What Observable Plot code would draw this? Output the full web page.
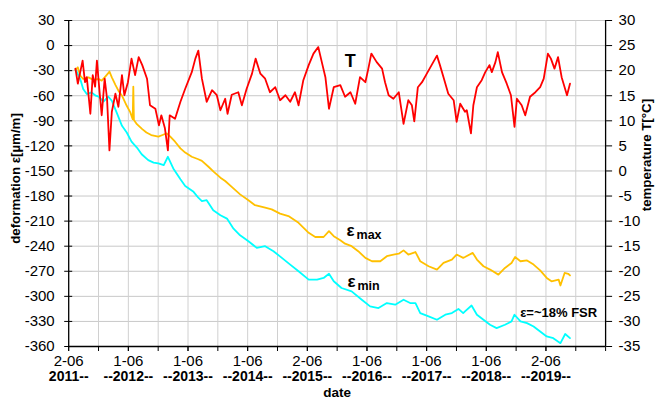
<!DOCTYPE html>
<html><head><meta charset="utf-8">
<script src="https://cdn.jsdelivr.net/npm/d3@7"></script>
<script src="https://cdn.jsdelivr.net/npm/@observablehq/plot@0.6"></script>
<style>
html,body{margin:0;padding:0;background:#fff}
#chart{width:655px;height:412px}
</style>
</head><body><div id="chart"></div>
<script>
// ---- data (decimal years, values) ----
const tMax = [2011.53,2011.57,2011.61,2011.66,2011.75,2011.83,2011.92,2011.97,2012.02,2012.08,2012.10,2012.14,2012.20,2012.25,2012.31,2012.39,2012.45,2012.49,2012.50,2012.51,2012.56,2012.65,2012.72,2012.80,2012.92,2012.99,2013.06,2013.12,2013.20,2013.29,2013.37,2013.48,2013.59,2013.65,2013.76,2013.85,2013.96,2014.04,2014.15,2014.29,2014.43,2014.54,2014.71,2014.82,2014.96,2015.10,2015.27,2015.44,2015.55,2015.69,2015.78,2015.86,2015.97,2016.05,2016.16,2016.27,2016.39,2016.50,2016.64,2016.75,2016.86,2016.95,2017.03,2017.11,2017.23,2017.31,2017.45,2017.59,2017.70,2017.84,2017.92,2018.03,2018.06,2018.19,2018.26,2018.37,2018.48,2018.62,2018.73,2018.84,2018.90,2018.99,2019.10,2019.21,2019.32,2019.43,2019.51,2019.63,2019.66,2019.73,2019.79,2019.82];
const vMax = [-29,-26,-36,-40,-38,-41,-40,-42,-38,-33,-31,-38,-47,-54,-60,-72,-80,-88,-49,-89,-94,-100,-104,-107,-109,-107,-105,-109,-115,-123,-128,-133,-136,-138,-145,-151,-158,-162,-169,-178,-185,-191,-194,-196,-201,-204,-212,-224,-229,-229,-222,-228,-233,-237,-240,-246,-254,-258,-258,-252,-250,-249,-245,-250,-247,-258,-264,-268,-260,-256,-250,-254,-253,-248,-256,-264,-268,-274,-266,-260,-253,-258,-257,-262,-269,-278,-282,-280,-287,-272,-273,-275];

const tMin = [2011.53,2011.61,2011.66,2011.72,2011.80,2011.87,2011.92,2012.00,2012.08,2012.14,2012.22,2012.31,2012.39,2012.47,2012.56,2012.64,2012.75,2012.84,2012.92,2013.01,2013.08,2013.17,2013.29,2013.37,2013.51,2013.59,2013.65,2013.73,2013.84,2013.96,2014.07,2014.18,2014.29,2014.43,2014.57,2014.71,2014.85,2014.99,2015.13,2015.27,2015.44,2015.58,2015.69,2015.78,2015.86,2015.99,2016.16,2016.33,2016.47,2016.61,2016.75,2016.89,2017.03,2017.14,2017.23,2017.31,2017.45,2017.59,2017.73,2017.84,2017.95,2018.03,2018.06,2018.17,2018.26,2018.37,2018.48,2018.59,2018.73,2018.84,2018.89,2018.99,2019.10,2019.21,2019.32,2019.43,2019.54,2019.66,2019.74,2019.82];
const vMin = [-28,-40,-52,-58,-56,-60,-61,-67,-61,-66,-80,-96,-104,-115,-122,-130,-137,-140,-141,-143,-133,-147,-160,-168,-175,-182,-186,-185,-197,-203,-207,-219,-227,-234,-242,-240,-246,-254,-262,-270,-280,-280,-278,-273,-282,-290,-294,-304,-312,-314,-308,-310,-304,-308,-308,-320,-324,-328,-322,-320,-315,-320,-318,-311,-322,-328,-334,-338,-334,-330,-322,-330,-332,-336,-342,-348,-350,-356,-345,-350];

const tTemp = [2011.53,2011.57,2011.61,2011.65,2011.69,2011.72,2011.78,2011.82,2011.86,2011.89,2011.93,2011.97,2012.02,2012.06,2012.10,2012.14,2012.20,2012.25,2012.31,2012.35,2012.41,2012.47,2012.53,2012.59,2012.65,2012.73,2012.78,2012.87,2012.93,2012.97,2013.03,2013.08,2013.11,2013.20,2013.29,2013.37,2013.48,2013.54,2013.59,2013.65,2013.73,2013.82,2013.90,2013.96,2014.04,2014.08,2014.15,2014.26,2014.32,2014.40,2014.49,2014.55,2014.63,2014.71,2014.79,2014.88,2014.96,2015.05,2015.13,2015.21,2015.27,2015.35,2015.44,2015.52,2015.60,2015.66,2015.72,2015.78,2015.86,2015.97,2016.05,2016.14,2016.22,2016.30,2016.39,2016.44,2016.49,2016.58,2016.67,2016.72,2016.78,2016.86,2016.95,2017.03,2017.11,2017.17,2017.21,2017.27,2017.34,2017.42,2017.50,2017.59,2017.64,2017.70,2017.78,2017.87,2017.92,2017.98,2018.03,2018.06,2018.09,2018.16,2018.20,2018.26,2018.34,2018.40,2018.47,2018.51,2018.57,2018.61,2018.68,2018.76,2018.83,2018.89,2018.93,2019.01,2019.07,2019.15,2019.24,2019.32,2019.38,2019.45,2019.50,2019.56,2019.62,2019.68,2019.73,2019.77,2019.82];
const vTemp = [20.4,17.4,19.7,22.0,17.7,18.7,11.4,19.1,16.8,22.0,16.4,11.1,18.4,14.4,4.1,11.8,15.4,12.8,19.1,15.1,17.7,22.4,19.1,22.7,21.1,18.4,13.1,12.4,9.1,11.1,8.5,4.1,11.1,10.4,13.8,16.4,19.7,22.4,24.0,18.4,13.8,16.1,15.1,12.1,14.4,11.4,15.2,15.7,13.1,16.4,19.4,22.4,19.4,18.4,15.7,16.7,14.1,15.1,13.8,15.7,13.1,18.1,21.1,23.4,24.7,21.7,18.7,12.4,16.7,17.1,14.8,15.7,13.4,18.7,17.7,20.4,23.4,21.7,20.4,17.7,15.1,14.4,15.7,9.4,14.1,13.1,9.9,16.7,17.7,19.4,21.1,23.0,21.1,18.7,15.4,14.1,9.8,13.4,12.4,11.8,12.1,7.5,13.1,16.7,18.1,19.7,21.1,19.7,21.7,23.7,19.7,17.4,15.1,8.8,14.4,13.1,11.1,14.8,15.7,16.7,18.4,23.4,22.4,20.4,22.7,18.7,16.7,15.1,17.4];

const leftTicks = [-360,-330,-300,-270,-240,-210,-180,-150,-120,-90,-60,-30,0,30];
const tempTicks = [-35,-30,-25,-20,-15,-10,-5,0,5,10,15,20,25,30];
const xDayLabels = ["2-06","1-06","1-06","1-06","2-06","1-06","1-06","1-06","2-06"];
const xYearLabels = ["2011--","--2012--","--2013--","--2014--","--2015--","--2016--","--2017--","--2018--","--2019--"];

// ---- build ----
const maxRows = tMax.map((t,i)=>({t, v:vMax[i]}));
const minRows = tMin.map((t,i)=>({t, v:vMin[i]}));
const tempRows = tTemp.map((t,i)=>({t, v:vTemp[i]}));

const x0 = 2011.417, x1 = 2020.417;
const toLeft = T => 30 + (T - 30) * 6;          // temperature → deformation scale
const fromLeft = v => Math.round((v - 30) / 6 + 30);
const majorTicks = xDayLabels.map((_, i) => x0 + i);
const minorTicks = d3.range(0, 10).map(i => x0 + i).concat(d3.range(0, 9).map(i => x0 + i + 0.5));
const gridX = d3.range(1, 18).map(i => x0 + i * 0.5);

const W = 655, H = 412, ML = 68.2, MR = 49.9, MT = 20, MB = 66;
const FW = W - ML - MR;
const FONT = "'Liberation Sans', Arial, Helvetica, sans-serif";

const chart = Plot.plot({
  width: W, height: H,
  marginLeft: ML, marginRight: MR, marginTop: MT, marginBottom: MB,
  style: {fontFamily: FONT, fontSize: "15px", color: "#000", background: "#fff", overflow: "visible"},
  x: {domain: [x0, x1]},
  y: {domain: [-360, 30]},
  marks: [
    Plot.ruleY(leftTicks.filter(v => v > -360), {stroke: "#c8c8c8", strokeWidth: 1}),
    Plot.ruleX(gridX, {stroke: "#d0d0d0", strokeWidth: 1}),
    Plot.line(minRows, {x: "t", y: "v", stroke: "#00ffff", strokeWidth: 1.8}),
    Plot.line(maxRows, {x: "t", y: "v", stroke: "#ffc000", strokeWidth: 1.8}),
    Plot.line(tempRows, {x: "t", y: d => toLeft(d.v), stroke: "#ff0000", strokeWidth: 1.8}),
    // frame axes lines
    Plot.ruleX([x0], {stroke: "#000", strokeWidth: 1.3}),
    Plot.ruleX([x1], {stroke: "#000", strokeWidth: 1.3}),
    Plot.ruleY([-360], {stroke: "#000", strokeWidth: 1.3}),
    // left axis
    Plot.axisY(leftTicks, {anchor: "left", tickSize: 4, tickPadding: 10, fontSize: 15, tickFormat: d => String(d), label: null}),
    Plot.tickY(leftTicks, {y: d => d, stroke: "#000", insetRight: FW - 4}),
    // right axis
    Plot.axisY(tempTicks.map(toLeft), {anchor: "right", tickSize: 6, tickPadding: 7, fontSize: 15, tickFormat: v => String(fromLeft(v)), label: null}),
    // x axis
    Plot.axisX(minorTicks, {anchor: "bottom", tickSize: 5, fill: "none", label: null}),
    Plot.axisX(majorTicks, {anchor: "bottom", tickSize: 5, tickPadding: 4, fontSize: 15, tickFormat: d => xDayLabels[Math.round(d - x0)], label: null}),
    Plot.axisX(majorTicks, {anchor: "bottom", tickSize: 0, tickPadding: 25, fontSize: 14, fontWeight: "bold", tickFormat: d => xYearLabels[Math.round(d - x0)], label: null}),
    // titles (placed in scale units just outside the frame)
    Plot.text([{t: x0 - 53 / 59.66, v: -159, s: "deformation ε[µm/m]"}], {x: "t", y: "v", text: "s", rotate: -90, fontSize: 13.3, fontWeight: "bold", fill: "#000"}),
    Plot.text([{t: x1 + 41 / 59.66, v: -131, s: "temperature T[°C]"}], {x: "t", y: "v", text: "s", rotate: -90, fontSize: 13.3, fontWeight: "bold", fill: "#000"}),
    Plot.text(["date"], {frameAnchor: "bottom", dy: 50, fontSize: 13.5, fontWeight: "bold", fill: "#000"}),
    // annotations
    Plot.text([{t: 2016.045, v: -25.6, s: "T"}], {x: "t", y: "v", text: "s", textAnchor: "start", lineAnchor: "bottom", fontSize: 18, fontWeight: "bold", fill: "#000"}),
    Plot.text([{t: 2016.074, v: -228.4, s: "ε"}], {x: "t", y: "v", text: "s", textAnchor: "start", lineAnchor: "bottom", fontSize: 17, fontWeight: "bold", fill: "#000"}),
    Plot.text([{t: 2016.074, v: -228.4, s: "max"}], {x: "t", y: "v", text: "s", dx: 10, dy: 3, textAnchor: "start", lineAnchor: "bottom", fontSize: 12.5, fontWeight: "bold", fill: "#000"}),
    Plot.text([{t: 2016.09, v: -288.8, s: "ε"}], {x: "t", y: "v", text: "s", textAnchor: "start", lineAnchor: "bottom", fontSize: 17, fontWeight: "bold", fill: "#000"}),
    Plot.text([{t: 2016.09, v: -288.8, s: "min"}], {x: "t", y: "v", text: "s", dx: 10, dy: 3, textAnchor: "start", lineAnchor: "bottom", fontSize: 12.5, fontWeight: "bold", fill: "#000"}),
    Plot.text([{t: 2018.985, v: -324.7, s: "ε=~18% FSR"}], {x: "t", y: "v", text: "s", textAnchor: "start", lineAnchor: "bottom", fontSize: 13, fontWeight: "bold", fill: "#000"})
  ]
});
document.getElementById("chart").appendChild(chart);
</script>
</body></html>
